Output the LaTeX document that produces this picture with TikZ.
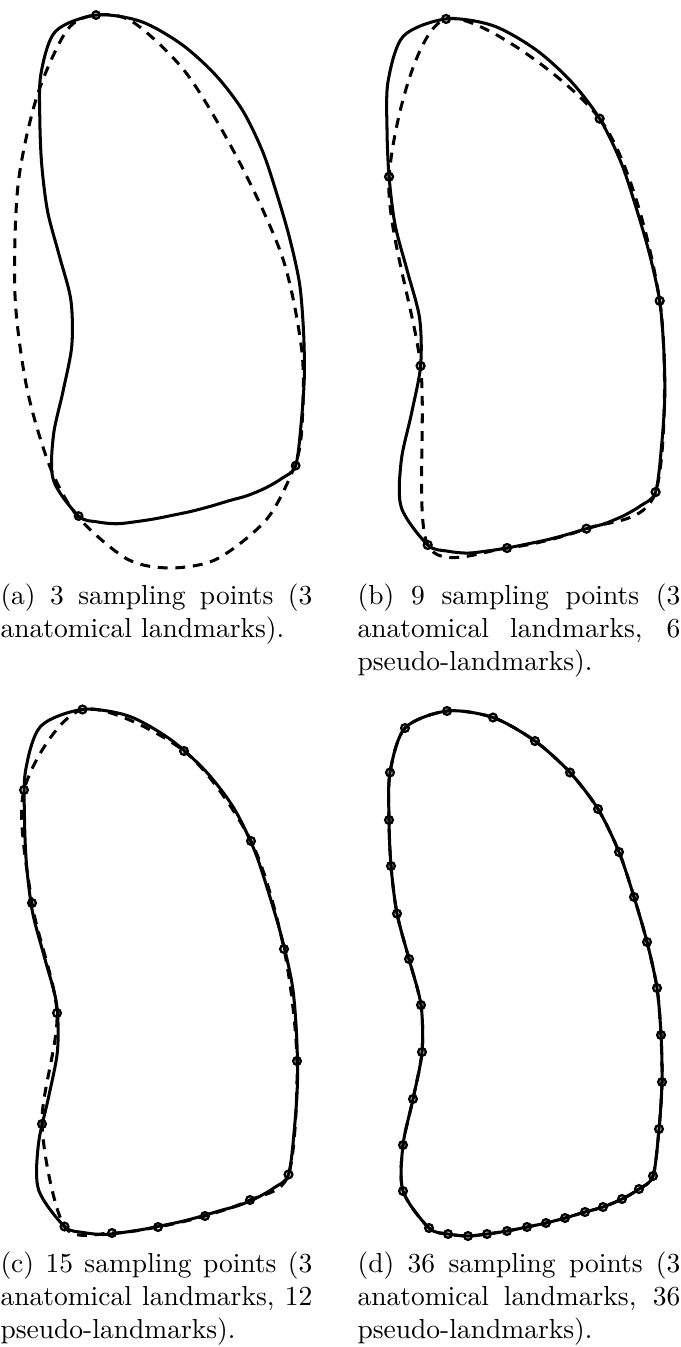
\documentclass[tikz,border=0pt]{standalone}
\usepackage{tikz}

\tikzset{
  outline/.style={line width=1.1pt, line join=round},
  recon/.style={line width=1.1pt, dash pattern=on 3.6pt off 2.8pt},
  sample/.style={line width=0.85pt},
  caption/.style={anchor=north west, inner sep=0pt, align=justify}
}
\newcommand{\boneoutline}{plot[smooth cycle] coordinates {(447,711) (493,717.5) (535,741) (570,772.5) (598,809) (619,852) (634,897) (647,942) (657,988) (661,1035) (662,1082) (659,1129) (653,1176) (639,1189) (622,1199) (603,1207) (585,1212) (565,1218) (546,1223) (527,1227) (507,1231) (487,1234) (468,1236) (448,1234) (429,1228) (403,1191) (403,1145) (413,1099) (422,1052) (421,1005) (409,959) (397,913.6) (391,866) (389,820) (390,772.5) (405,728)}}

\begin{document}
\begin{tikzpicture}[x=0.3636pt,y=-0.3636pt]
  \useasboundingbox (0,0) rectangle (680,1347);

  \begin{scope}[shift={(-337.1,-673.9)},scale=0.969]
    \draw[recon] plot[smooth cycle] coordinates {(447,711) (485.1,718.2) (540.8,771.8) (595.5,863.7) (639.9,962.7) (659.5,1058.7) (659.5,1135.1) (652.3,1175.3) (623.4,1231) (571.8,1272.3) (523.3,1281.6) (478.9,1272.3) (428.4,1228.9) (399.5,1177.3) (375.8,1096.8) (363.4,1000.9) (366.5,886.4) (386.1,794.6) (417.1,726.5)};
    \draw[outline] \boneoutline;
    \foreach \p in {(447,711),(653,1176),(429,1228)}
      \draw[sample] \p circle[radius=1.4pt];
  \end{scope}

  \begin{scope}[shift={(-8.75,-704.4)},scale=1.0174]
    \draw[recon] plot[smooth cycle] coordinates {(447,711) (598,809) (657,988) (653,1176) (585,1212) (507,1231) (429,1228) (422,1052) (391,866)};
    \draw[outline] \boneoutline;
    \foreach \p in {(447,711),(598,809),(657,988),(653,1176),(585,1212),(507,1231),(429,1228),(422,1052),(391,866)}
      \draw[sample] \p circle[radius=1.4pt];
  \end{scope}

  \begin{scope}[shift={(-364.5,-1.5)}]
    \draw[recon] plot[smooth cycle] coordinates {(447,711) (548.5,752.5) (615.5,842.5) (648.5,950.5) (661.5,1062.5) (653,1176) (614.5,1201.5) (569.5,1217.5) (522.5,1228.5) (476.5,1234.5) (429,1228) (406.5,1125.5) (421.5,1014.5) (396.5,904.5) (388.5,791.5)};
    \draw[outline] \boneoutline;
    \foreach \p in {(447,711),(548.5,752.5),(615.5,842.5),(648.5,950.5),(661.5,1062.5),(653,1176),(614.5,1201.5),(569.5,1217.5),(522.5,1228.5),(476.5,1234.5),(429,1228),(406.5,1125.5),(421.5,1014.5),(396.5,904.5),(388.5,791.5)}
      \draw[sample] \p circle[radius=1.4pt];
  \end{scope}

  \draw[recon] \boneoutline;
  \draw[outline] \boneoutline;
  \foreach \p in {(447,711),(493,717.5),(535,741),(570,772.5),(598,809),(619,852),(634,897),(647,942),(657,988),(661,1035),(662,1082),(659,1129),(653,1176),(639,1189),(622,1199),(603,1207),(585,1212),(565,1218),(546,1223),(527,1227),(507,1231),(487,1234),(468,1236),(448,1234),(429,1228),(403,1191),(403,1145),(413,1099),(422,1052),(421,1005),(409,959),(397,913.6),(391,866),(389,820),(390,772.5),(405,728)}
    \draw[sample] \p circle[radius=1.4pt];

  \node[caption,text width=113.4pt] (capa) at (0,583) {(a) 3 sampling points (3 anatomical landmarks).};
  \node[caption,text width=117.4pt] (capb) at (357,583) {(b) 9 sampling points (3 anatomical landmarks, 6 pseudo-landmarks).};
  \node[caption,text width=113.4pt] (capc) at (0,1251) {(c) 15 sampling points (3 anatomical landmarks, 12 pseudo-landmarks).};
  \node[caption,text width=117.4pt] (capd) at (357,1251) {(d) 36 sampling points (3 anatomical landmarks, 36 pseudo-landmarks).};
\end{tikzpicture}
\end{document}
